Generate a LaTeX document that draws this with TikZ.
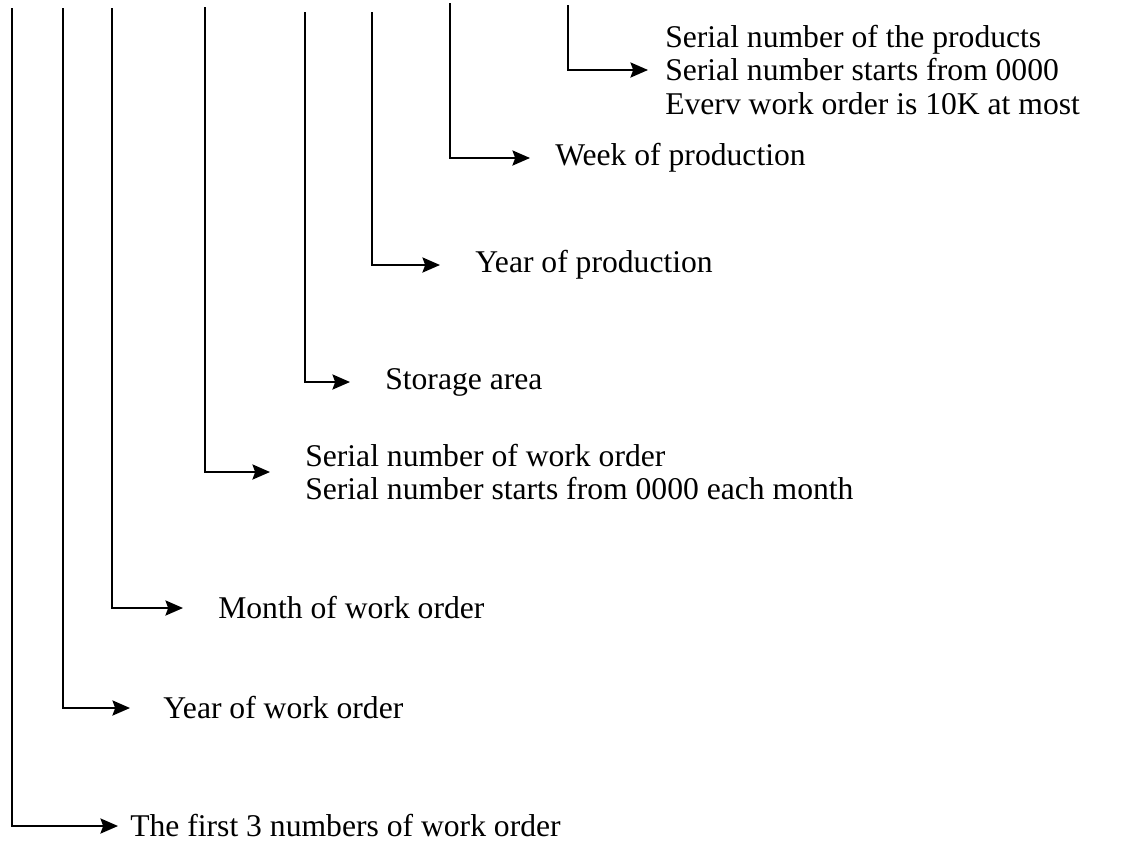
\documentclass[tikz,border=0pt]{standalone}
\usepackage{fontspec}
\setmainfont{Liberation Serif}
\usetikzlibrary{arrows.meta}

\tikzset{
  lead/.style={line width=1.2pt, -{Stealth[length=4.4mm,width=3.8mm,inset=0.7mm]}},
  lbl/.style={anchor=west, inner sep=0pt, align=left, font=\fontsize{22.5}{23.5}\selectfont},
}

\begin{document}
\begin{tikzpicture}[x=0.25mm,y=-0.25mm]
\useasboundingbox (0,0) rectangle (1122,859);

% tops of the leader lines
\coordinate (t1) at (12,8);
\coordinate (t2) at (63,8);
\coordinate (t3) at (112,8);
\coordinate (t4) at (205,7);
\coordinate (t5) at (305,12);
\coordinate (t6) at (372,12);
\coordinate (t7) at (450,3);
\coordinate (t8) at (568,5);

% labels
\node [lbl] (first) at (130,826) {The first 3 numbers of work order};
\node [lbl] (yearwo) at (163,708) {Year of work order};
\node [lbl] (monthwo) at (218,608) {Month of work order};
\node [lbl] (serialwo) at (305,472) {Serial number of work order\\Serial number starts from 0000 each month};
\node [lbl] (storage) at (385,382) {Storage area};
\node [lbl] (yearpr) at (475,265) {Year of production};
\node [lbl] (weekpr) at (555,158) {Week of production};
\node [lbl] (serialpr) at (665,70) {Serial number of the products\\Serial number starts from 0000\\Everv work order is 10K at most};

% leaders
\draw [lead, shorten >=3mm] (t1) |- (first);
\draw [lead, shorten >=8.25mm] (t2) |- (yearwo);
\draw [lead, shorten >=8.75mm] (t3) |- (monthwo);
\draw [lead, shorten >=8.75mm] (t4) |- (serialwo);
\draw [lead, shorten >=8.75mm] (t5) |- (storage);
\draw [lead, shorten >=8.75mm] (t6) |- (yearpr);
\draw [lead, shorten >=6.25mm] (t7) |- (weekpr);
\draw [lead, shorten >=4.25mm] (t8) |- (serialpr);
\end{tikzpicture}
\end{document}
